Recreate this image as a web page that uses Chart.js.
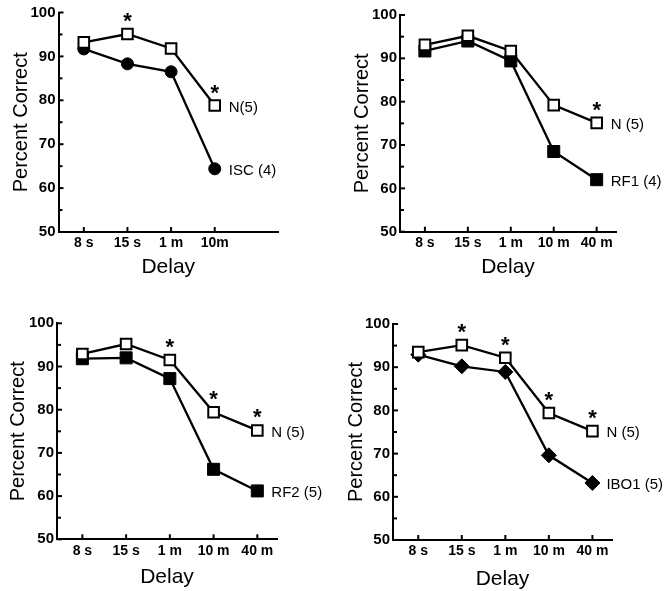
<!DOCTYPE html>
<html>
<head>
<meta charset="utf-8">
<script src="https://cdn.jsdelivr.net/npm/chart.js@4.4.1/dist/chart.umd.min.js"></script>
<style>
  html, body { margin: 0; padding: 0; background: #fff; overflow: hidden; }
  #wrap { position: relative; width: 666px; height: 591px; }
  canvas { position: absolute; }
</style>
</head>
<body>
<div id="wrap">
  <canvas id="c1"></canvas>
  <canvas id="c2"></canvas>
  <canvas id="c3"></canvas>
  <canvas id="c4"></canvas>
</div>
<script>
// Data
const delayShort = ['8 s', '15 s', '1 m', '10m'];
const delayLong = ['8 s', '15 s', '1 m', '10 m', '40 m'];
const yTickValues = [50, 60, 70, 80, 90, 100];

// top left: N vs ISC
const normalA = [93.2, 95.1, 91.8, 78.8];
const iscA = [91.7, 88.3, 86.5, 64.4];
const starsA = [1, 3];

// top right: N vs RF1
const normalB = [93.1, 95.2, 91.7, 79.2, 75.1];
const rf1B = [91.7, 94.0, 89.4, 68.5, 62.0];
const starsB = [4];

// bottom left: N vs RF2
const normalC = [92.9, 95.2, 91.5, 79.4, 75.2];
const rf2C = [91.8, 92.0, 87.2, 66.2, 61.2];
const starsC = [2, 3, 4];

// bottom right: N vs IBO1
const normalD = [93.5, 95.1, 92.2, 79.4, 75.2];
const ibo1D = [92.9, 90.2, 88.9, 69.6, 63.2];
const starsD = [1, 2, 3, 4];

const FONT = "'Liberation Sans', Arial, Helvetica, sans-serif";

// Draws inward tick marks, the end labels and the asterisks
const extrasPlugin = {
    id: 'extras',
    beforeDatasetsDraw(chart) {
        const ctx = chart.ctx;
        const x = chart.scales.x;
        const y = chart.scales.y;
        const area = chart.chartArea;
        ctx.save();
        ctx.strokeStyle = '#000';
        ctx.lineWidth = 2;
        for (let v = 50; v <= 100; v += 5) {
            const py = y.getPixelForValue(v);
            ctx.beginPath();
            ctx.moveTo(area.left, py);
            ctx.lineTo(area.left + (v % 10 === 0 ? 5 : 4), py);
            ctx.stroke();
        }
        chart.options.plugins.extras.cats.forEach((c, i) => {
            const px = x.getPixelForValue(i);
            ctx.beginPath();
            ctx.moveTo(px, area.bottom);
            ctx.lineTo(px, area.bottom - 5);
            ctx.stroke();
        });
        ctx.restore();
    },
    afterDatasetsDraw(chart) {
        const ctx = chart.ctx;
        const opts = chart.options.plugins.extras;
        ctx.save();
        ctx.fillStyle = '#000';
        ctx.textAlign = 'left';
        ctx.textBaseline = 'middle';
        ctx.font = '15px ' + FONT;
        chart.data.datasets.forEach((ds, di) => {
            const pts = chart.getDatasetMeta(di).data;
            const last = pts[pts.length - 1];
            ctx.fillText(ds.label, last.x + 14, last.y + 2);
        });
        ctx.textAlign = 'center';
        ctx.textBaseline = 'alphabetic';
        ctx.font = 'bold 22px ' + FONT;
        const nPts = chart.getDatasetMeta(0).data;
        opts.stars.forEach(i => {
            ctx.fillText('*', nPts[i].x, nPts[i].y - 6);
        });
        ctx.restore();
    }
};

const makeChart = (p) => {
    const canvas = document.getElementById(p.id);
    canvas.width = p.w;
    canvas.height = p.h;
    canvas.style.left = p.left + 'px';
    canvas.style.top = p.top + 'px';

    const yWidth = p.axisX - p.left;
    const padTop = p.top100 - p.top;
    const padRight = p.left + p.w - p.right;
    const xHeight = p.top + p.h - p.bottom50;
    const titleSize = 21;

    return new Chart(canvas, {
        type: 'line',
        data: {
            datasets: [
                {
                    label: p.normalLabel,
                    data: p.normal.map((v, i) => ({ x: i, y: v })),
                    borderColor: '#000',
                    borderWidth: 2.3,
                    pointStyle: 'rect',
                    pointRadius: 7.5,
                    pointBorderWidth: 2,
                    pointBackgroundColor: '#fff',
                    pointBorderColor: '#000',
                    tension: 0
                },
                {
                    label: p.lesionLabel,
                    data: p.lesion.map((v, i) => ({ x: i, y: v })),
                    borderColor: '#000',
                    borderWidth: 2.3,
                    pointStyle: p.marker,
                    pointRadius: p.markerSize,
                    pointBorderWidth: 1,
                    pointBackgroundColor: '#000',
                    pointBorderColor: '#000',
                    tension: 0
                }
            ]
        },
        options: {
            responsive: false,
            animation: false,
            events: [],
            layout: {
                autoPadding: false,
                padding: { top: padTop, right: padRight, left: 0, bottom: 0 }
            },
            plugins: {
                legend: { display: false },
                tooltip: { enabled: false },
                extras: { cats: p.cats, stars: p.stars }
            },
            scales: {
                x: {
                    type: 'linear',
                    min: -0.58,
                    max: 4.45,
                    afterBuildTicks: (scale) => {
                        scale.ticks = p.cats.map((c, i) => ({ value: i }));
                    },
                    afterFit: (scale) => { scale.height = xHeight; },
                    grid: { display: false, drawTicks: false },
                    border: { display: true, color: '#000', width: 2 },
                    ticks: {
                        autoSkip: false,
                        maxRotation: 0,
                        padding: 3,
                        color: '#000',
                        font: { family: FONT, size: 14, weight: 'bold' },
                        callback: (v) => p.cats[v] ?? ''
                    },
                    title: {
                        display: true,
                        text: 'Delay',
                        color: '#000',
                        font: { family: FONT, size: titleSize, lineHeight: 1.2 },
                        padding: { top: 0, bottom: xHeight - p.delayGap - titleSize * 0.6 }
                    }
                },
                y: {
                    min: 50,
                    max: 100,
                    afterBuildTicks: (scale) => {
                        scale.ticks = yTickValues.map(v => ({ value: v }));
                    },
                    afterFit: (scale) => { scale.width = yWidth; },
                    grid: { display: false, drawTicks: false },
                    border: { display: true, color: '#000', width: 2 },
                    ticks: {
                        padding: 3,
                        color: '#000',
                        font: { family: FONT, size: 15, weight: 'bold' }
                    },
                    title: {
                        display: true,
                        text: 'Percent Correct',
                        color: '#000',
                        font: { family: FONT, size: 20, lineHeight: 1.2 },
                        padding: { top: p.titleX - 12, bottom: 0 }
                    }
                }
            }
        },
        plugins: [extrasPlugin]
    });
};

const panels = [
    { id: 'c1', left: 0, top: 0, w: 333, h: 284, axisX: 58.5, top100: 12.5, bottom50: 232, right: 278,
      cats: delayShort, normal: normalA, lesion: iscA, stars: starsA,
      normalLabel: 'N(5)', lesionLabel: 'ISC (4)', marker: 'circle', markerSize: 6,
      delayGap: 35, titleX: 21 },
    { id: 'c2', left: 333, top: 0, w: 333, h: 284, axisX: 400, top100: 15, bottom50: 231.7, right: 616,
      cats: delayLong, normal: normalB, lesion: rf1B, stars: starsB,
      normalLabel: 'N (5)', lesionLabel: 'RF1 (4)', marker: 'rect', markerSize: 8.5,
      delayGap: 36, titleX: 29.5 },
    { id: 'c3', left: 0, top: 300, w: 333, h: 291, axisX: 57, top100: 323.3, bottom50: 539.3, right: 277,
      cats: delayLong, normal: normalC, lesion: rf2C, stars: starsC,
      normalLabel: 'N (5)', lesionLabel: 'RF2 (5)', marker: 'rect', markerSize: 8.5,
      delayGap: 38, titleX: 18.5 },
    { id: 'c4', left: 333, top: 300, w: 333, h: 291, axisX: 393, top100: 324, bottom50: 540, right: 612,
      cats: delayLong, normal: normalD, lesion: ibo1D, stars: starsD,
      normalLabel: 'N (5)', lesionLabel: 'IBO1 (5)', marker: 'rectRot', markerSize: 7.5,
      delayGap: 39, titleX: 23.5 }
];

panels.forEach(makeChart);
</script>
</body>
</html>
